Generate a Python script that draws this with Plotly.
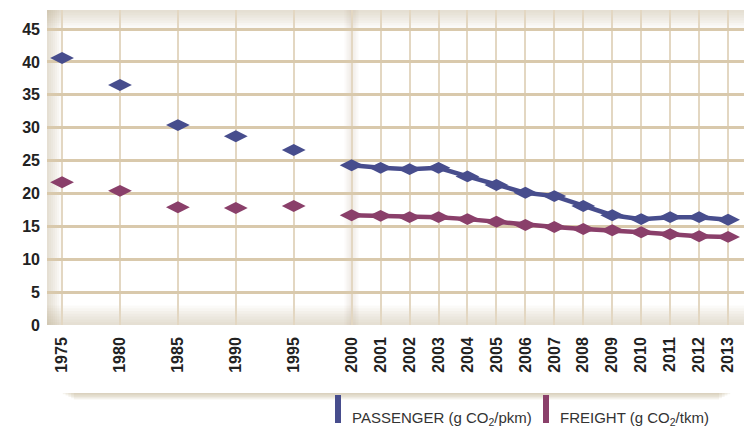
import plotly.graph_objects as go

years = ["1975", "1980", "1985", "1990", "1995", "2000", "2001", "2002", "2003", "2004",
         "2005", "2006", "2007", "2008", "2009", "2010", "2011", "2012", "2013"]
# category positions (5-year steps take two slots, annual steps one)
positions = [0, 2, 4, 6, 8, 10, 11, 12, 13, 14, 15, 16, 17, 18, 19, 20, 21, 22, 23]
passenger = [40.6, 36.5, 30.4, 28.7, 26.6, 24.3, 23.9, 23.7, 23.9, 22.6,
             21.3, 20.1, 19.6, 18.1, 16.7, 16.1, 16.4, 16.4, 16.0]
freight = [21.7, 20.4, 17.9, 17.8, 18.1, 16.7, 16.6, 16.4, 16.4, 16.1,
           15.7, 15.2, 14.9, 14.6, 14.4, 14.1, 13.8, 13.5, 13.4]
y_ticks = [0, 5, 10, 15, 20, 25, 30, 35, 40, 45]

C_PASS = "#474D8D"
C_FRT = "#8A3F6A"
GRID_H = "#D9C9AC"
GRID_V = "#E3D7C2"
SHADOW = "#B8A37C"

fig = go.Figure()

annual_start = 5  # lines connect annual data from 2000 on
for vals, col in [(passenger, C_PASS), (freight, C_FRT)]:
    fig.add_trace(go.Scatter(
        x=positions[annual_start:], y=vals[annual_start:], mode="lines",
        line=dict(color=col, width=4.5), hoverinfo="skip", showlegend=False))
    fig.add_trace(go.Scatter(
        x=positions, y=vals, mode="markers",
        marker=dict(symbol="diamond-wide", size=17, color=col, line=dict(width=0)),
        showlegend=False))

shapes = []
# soft shadows inside the plot frame
for i in range(7):
    op = 0.05
    shapes.append(dict(type="rect", xref="paper", yref="paper", x0=0, x1=1,
                       y0=1 - (i + 1) * 2.6 / 315, y1=1, fillcolor=SHADOW, opacity=op,
                       line=dict(width=0), layer="below"))
    shapes.append(dict(type="rect", xref="paper", yref="paper", x0=0, x1=1,
                       y0=0, y1=(i + 1) * 2.8 / 315, fillcolor=SHADOW, opacity=op,
                       line=dict(width=0), layer="below"))
    shapes.append(dict(type="rect", xref="paper", yref="paper", x0=0,
                       x1=(i + 1) * 2.0 / 697, y0=0, y1=1, fillcolor=SHADOW, opacity=op,
                       line=dict(width=0), layer="below"))
for i in range(5):
    w = (i + 1) * 0.05
    shapes.append(dict(type="rect", xref="x", yref="paper", x0=10 - w, x1=10 + w,
                       y0=0, y1=1, fillcolor=SHADOW, opacity=0.04,
                       line=dict(width=0), layer="below"))
# shadow band below the axis labels
for i in range(6):
    shapes.append(dict(type="rect", xref="paper", yref="paper",
                       x0=(60 - 47) / 697 + i * 0.004, x1=(733 - 47) / 697 - i * 0.004,
                       y0=(325 - 393 - i * 1.3) / 315, y1=(325 - 393) / 315,
                       fillcolor=SHADOW, opacity=0.12, line=dict(width=0), layer="below"))

# legend swatches
for px, col in [(335, C_PASS), (543, C_FRT)]:
    shapes.append(dict(type="rect", xref="paper", yref="paper",
                       x0=(px - 47) / 697, x1=(px + 6 - 47) / 697,
                       y0=(325 - 423) / 315, y1=(325 - 395) / 315,
                       fillcolor=col, line=dict(width=0)))

annotations = [
    dict(text="PASSENGER (g CO<sub>2</sub>/pkm)", xref="paper", yref="paper",
         x=(350 - 47) / 697, y=(325 - 418) / 315, xanchor="left", yanchor="middle",
         showarrow=False, font=dict(family="Liberation Sans, Arial", size=15, color="#333")),
    dict(text="FREIGHT (g CO<sub>2</sub>/tkm)", xref="paper", yref="paper",
         x=(558 - 47) / 697, y=(325 - 418) / 315, xanchor="left", yanchor="middle",
         showarrow=False, font=dict(family="Liberation Sans, Arial", size=15, color="#333")),
]

fig.update_layout(
    width=744, height=429,
    margin=dict(l=47, r=0, t=10, b=104),
    paper_bgcolor="white", plot_bgcolor="white",
    shapes=shapes, annotations=annotations,
    xaxis=dict(range=[-0.52, 23.55], tickmode="array", tickvals=positions, ticktext=years,
               tickangle=-90, showgrid=True, gridcolor=GRID_V, gridwidth=2,
               zeroline=False, showline=False, ticks="",
               tickfont=dict(family="Liberation Sans, Arial", size=16, color="#222"),
               ticklabelstandoff=8),
    yaxis=dict(range=[0, 47.9], tickmode="array", tickvals=y_ticks,
               showgrid=True, gridcolor=GRID_H, gridwidth=3,
               zeroline=False, showline=False, ticks="",
               tickfont=dict(family="Liberation Sans, Arial", size=16, color="#222"),
               ticklabelstandoff=6),
)
fig.update_xaxes(tickfont_weight="bold")
fig.update_yaxes(tickfont_weight="bold")

fig.write_html("out.html", config={"displayModeBar": False},
               post_script="document.body.style.margin='0';")
